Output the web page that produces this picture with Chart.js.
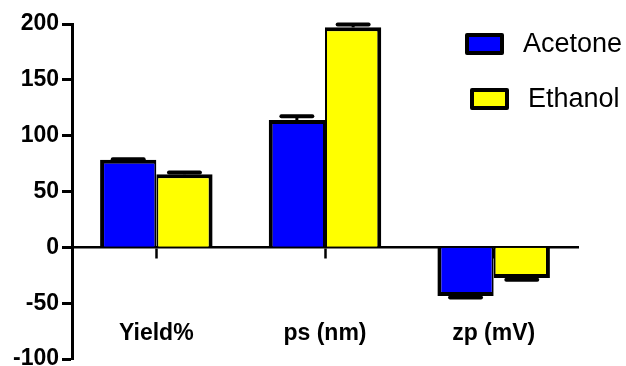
<!DOCTYPE html>
<html>
<head>
<meta charset="utf-8">
<script src="https://cdn.jsdelivr.net/npm/chart.js@4"></script>
<style>
    body { margin: 0; background: #fff; }
    #wrap { position: relative; width: 626px; height: 366px; }
    .key { position: absolute; display: flex; align-items: center; font-family: "Liberation Sans", Arial, sans-serif; font-size: 27px; color: #000; }
    .swatch { box-sizing: border-box; width: 39px; height: 22px; border: 4px solid #000; border-radius: 2px; margin-right: 19px; }
</style>
</head>
<body>
<div id="wrap">
    <canvas id="chart" width="626" height="366"></canvas>
    <div class="key" style="left:465px; top:28px;"><div class="swatch" style="background:#0000ff"></div>Acetone</div>
    <div class="key" style="left:470px; top:83px;"><div class="swatch" style="background:#ffff00"></div>Ethanol</div>
</div>
<script>
const categories = ["Yield%", "ps (nm)", "zp (mV)"];
const acetone = [78.5, 114, -43.5];
const acetoneErr = [0.3, 3.5, 1.5];
const ethanol = [65.5, 197, -27.5];
const ethanolErr = [1.5, 2.5, 1.5];
const yTicks = [-100, -50, 0, 50, 100, 150, 200];

const errors = [acetoneErr, ethanolErr];

// one-sided error bars, drawn away from zero like the original
const errorBars = {
    id: "errorBars",
    afterDatasetsDraw(chart) {
        const ctx = chart.ctx;
        const y = chart.scales.y;
        chart.data.datasets.forEach((ds, i) => {
            const meta = chart.getDatasetMeta(i);
            meta.data.forEach((bar, j) => {
                const v = ds.data[j];
                const e = errors[i][j];
                const end = y.getPixelForValue(v + (v < 0 ? -e : e));
                const capW = bar.width * 0.55;
                ctx.save();
                ctx.strokeStyle = "#000";
                ctx.lineWidth = 3;
                ctx.beginPath();
                ctx.moveTo(bar.x, bar.y);
                ctx.lineTo(bar.x, end);
                ctx.stroke();
                ctx.lineWidth = 4;
                ctx.lineCap = "round";
                ctx.beginPath();
                ctx.moveTo(bar.x - capW / 2, end);
                ctx.lineTo(bar.x + capW / 2, end);
                ctx.stroke();
                ctx.restore();
            });
        });
    }
};

const boldFont = { family: "'Liberation Sans', Arial, sans-serif", weight: "bold" };

new Chart(document.getElementById("chart"), {
    type: "bar",
    data: {
        labels: categories,
        datasets: [
            {
                label: "Acetone",
                data: acetone,
                backgroundColor: "#0000ff",
                borderColor: "#000",
                borderWidth: { top: 4, bottom: 4, left: 4, right: 2 },
                categoryPercentage: 0.667,
                barPercentage: 1
            },
            {
                label: "Ethanol",
                data: ethanol,
                backgroundColor: "#ffff00",
                borderColor: "#000",
                borderWidth: { top: 4, bottom: 4, left: 2, right: 4 },
                categoryPercentage: 0.667,
                barPercentage: 1
            }
        ]
    },
    options: {
        responsive: false,
        animation: false,
        layout: { padding: { top: 24, right: 48, bottom: 7, left: 0 } },
        plugins: {
            legend: { display: false },
            tooltip: { enabled: false }
        },
        scales: {
            x: {
                position: { y: 0 },
                offset: true,
                grid: {
                    offset: false,
                    drawOnChartArea: false,
                    tickLength: 10,
                    tickWidth: 2.5,
                    tickColor: "#000"
                },
                border: { color: "#000", width: 2.5 },
                ticks: {
                    color: "#000",
                    padding: 63,
                    font: { ...boldFont, size: 23 }
                },
                afterFit(scale) {
                    scale.height = 0;
                    scale.paddingLeft = 0;
                    scale.paddingRight = 0;
                }
            },
            y: {
                min: yTicks[0],
                max: yTicks[yTicks.length - 1],
                afterBuildTicks(scale) {
                    scale.ticks = yTicks.map((v) => ({ value: v }));
                },
                grid: {
                    drawOnChartArea: false,
                    tickLength: 10,
                    tickWidth: 3,
                    tickColor: "#000"
                },
                border: { color: "#000", width: 3 },
                ticks: {
                    color: "#000",
                    padding: 3,
                    font: { ...boldFont, size: 23 }
                },
                afterFit(scale) {
                    scale.width = 72;
                    scale.paddingTop = 0;
                    scale.paddingBottom = 0;
                }
            }
        }
    },
    plugins: [errorBars]
});
</script>
</body>
</html>
